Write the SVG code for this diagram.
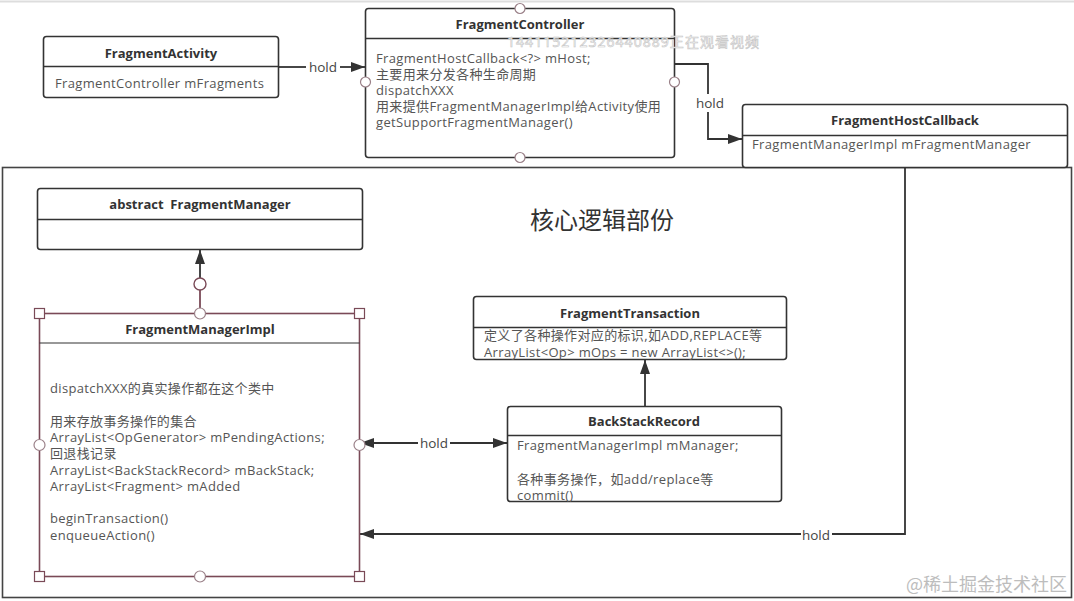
<svg xmlns="http://www.w3.org/2000/svg" width="1074" height="601" viewBox="0 0 1074 601">
<style>
  .box { fill: #fff; stroke: #333; stroke-width: 1.6; }
  .div { stroke: #333; stroke-width: 1.4; fill: none; }
  .sel { fill: #fff; stroke: #7a4a57; stroke-width: 1.6; }
  .seldiv { stroke: #333; stroke-width: 1.2; fill: none; }
  .title { font-family: "Open Sans", "Noto Sans", "Noto Sans CJK SC", sans-serif; font-size: 13px; font-weight: bold; fill: #333; text-anchor: middle; }
  .body { font-family: "Open Sans", "Noto Sans", "Noto Sans CJK SC", sans-serif; font-size: 13px; letter-spacing: 0.35px; fill: #555; }
  .lbl { font-family: "Open Sans", "Noto Sans", "Noto Sans CJK SC", sans-serif; font-size: 13.5px; fill: #444; text-anchor: middle; }
  .pt { fill: #fff; stroke: #9a8088; stroke-width: 1.2; }
  .hd { fill: #fff; stroke: #7a4a57; stroke-width: 1.2; }
  .ln { stroke: #333; stroke-width: 1.8; fill: none; }
</style>
<defs>
  <marker id="arr" markerUnits="userSpaceOnUse" markerWidth="14" markerHeight="10" refX="14" refY="5" orient="auto-start-reverse">
    <path d="M0,0 L14,5 L0,10 z" fill="#333"/>
  </marker>
</defs>
<rect width="1074" height="601" fill="#fff"/>
<line x1="0" y1="1.5" x2="1074" y2="1.5" stroke="#ddd" stroke-width="2"/>

<g id="core-container">
  <rect x="2.5" y="167.5" width="1069" height="430" fill="none" stroke="#444" stroke-width="1.6"/>
  <text x="602" y="229" font-family="'Noto Sans CJK SC', sans-serif" font-size="24" fill="#333" text-anchor="middle">核心逻辑部份</text>
</g>

<g id="connectors">
  <!-- FragmentActivity -> FragmentController -->
  <line class="ln" x1="279" y1="67" x2="306" y2="67"/>
  <line class="ln" x1="340" y1="67" x2="365" y2="67" marker-end="url(#arr)"/>
  <text class="lbl" x="323" y="72">hold</text>
  <!-- FragmentController -> FragmentHostCallback -->
  <polyline class="ln" points="674,64 708,64 708,139 742,139" marker-end="url(#arr)"/>
  <rect x="694" y="94" width="32" height="18" fill="#fff"/>
  <text class="lbl" x="710" y="108">hold</text>
  <!-- FragmentManagerImpl -> FragmentManager -->
  <line x1="200" y1="313" x2="200" y2="290" stroke="#7a4a57" stroke-width="1.8"/>
  <line class="ln" x1="200" y1="278" x2="200" y2="250" marker-end="url(#arr)"/>
  <circle cx="200" cy="284" r="6" fill="#fff" stroke="#7a4a57" stroke-width="1.4"/>
  <!-- BackStackRecord -> FragmentTransaction -->
  <line class="ln" x1="645" y1="406" x2="645" y2="360" marker-end="url(#arr)"/>
  <!-- FragmentManagerImpl <-> BackStackRecord -->
  <line class="ln" x1="360" y1="443" x2="418" y2="443" marker-start="url(#arr)"/>
  <line class="ln" x1="450" y1="443" x2="507" y2="443" marker-end="url(#arr)"/>
  <text class="lbl" x="434" y="448">hold</text>
  <!-- FragmentHostCallback -> FragmentManagerImpl -->
  <polyline class="ln" points="905,167 905,534 832,534"/>
  <line class="ln" x1="801" y1="534" x2="360" y2="534" marker-end="url(#arr)"/>
  <text class="lbl" x="816" y="540">hold</text>
</g>

<g id="FragmentActivity">
  <rect class="box" x="43.5" y="36.5" width="235" height="61" rx="3"/>
  <line class="div" x1="43.5" y1="66.5" x2="278.5" y2="66.5"/>
  <text class="title" x="161" y="58">FragmentActivity</text>
  <text class="body" x="55" y="88">FragmentController mFragments</text>
</g>

<g id="FragmentController">
  <rect class="box" x="365.5" y="8.5" width="309" height="149" rx="3"/>
  <line class="div" x1="365.5" y1="38.5" x2="674.5" y2="38.5"/>
  <text class="title" x="520" y="29">FragmentController</text>
  <text class="body" x="376" y="63">FragmentHostCallback&lt;?&gt; mHost;</text>
  <text class="body" x="376" y="79">主要用来分发各种生命周期</text>
  <text class="body" x="376" y="95">dispatchXXX</text>
  <text class="body" x="376" y="111">用来提供FragmentManagerImpl给Activity使用</text>
  <text class="body" x="376" y="127">getSupportFragmentManager()</text>
  <circle class="pt" cx="520" cy="8.5" r="5"/>
  <circle class="pt" cx="365.5" cy="82" r="5"/>
  <circle class="pt" cx="674.5" cy="82" r="5"/>
  <circle class="pt" cx="520" cy="157.5" r="5"/>
</g>

<g id="FragmentHostCallback">
  <rect class="box" x="742.5" y="104.5" width="325" height="63" rx="3"/>
  <line class="div" x1="742.5" y1="135.5" x2="1067.5" y2="135.5"/>
  <text class="title" x="905" y="125">FragmentHostCallback</text>
  <text class="body" x="752" y="149">FragmentManagerImpl mFragmentManager</text>
</g>

<g id="FragmentManager">
  <rect class="box" x="37.5" y="188.5" width="325" height="61" rx="3"/>
  <line class="div" x1="37.5" y1="219.5" x2="362.5" y2="219.5"/>
  <text class="title" x="200" y="209" xml:space="preserve">abstract  FragmentManager</text>
</g>

<g id="FragmentManagerImpl">
  <rect class="sel" x="39.5" y="313.5" width="320" height="263"/>
  <line class="seldiv" x1="39.5" y1="343" x2="359.5" y2="343"/>
  <text class="title" x="200" y="334">FragmentManagerImpl</text>
  <text class="body" x="50" y="393">dispatchXXX的真实操作都在这个类中</text>
  <text class="body" x="50" y="426">用来存放事务操作的集合</text>
  <text class="body" x="50" y="442">ArrayList&lt;OpGenerator&gt; mPendingActions;</text>
  <text class="body" x="50" y="458">回退栈记录</text>
  <text class="body" x="50" y="475">ArrayList&lt;BackStackRecord&gt; mBackStack;</text>
  <text class="body" x="50" y="491">ArrayList&lt;Fragment&gt; mAdded</text>
  <text class="body" x="50" y="523">beginTransaction()</text>
  <text class="body" x="50" y="540">enqueueAction()</text>
  <rect class="hd" x="34.5" y="308.5" width="10" height="10"/>
  <rect class="hd" x="354.5" y="308.5" width="10" height="10"/>
  <rect class="hd" x="34.5" y="571.5" width="10" height="10"/>
  <rect class="hd" x="354.5" y="571.5" width="10" height="10"/>
  <circle class="pt" cx="200" cy="313.5" r="5.5"/>
  <circle class="pt" cx="200" cy="576.5" r="5.5"/>
  <circle class="pt" cx="39.5" cy="445" r="5.5"/>
  <circle class="pt" cx="359.5" cy="445" r="5.5"/>
</g>

<g id="FragmentTransaction">
  <rect class="box" x="473.5" y="296.5" width="313" height="63" rx="3"/>
  <line class="div" x1="473.5" y1="327.5" x2="786.5" y2="327.5"/>
  <text class="title" x="630" y="318">FragmentTransaction</text>
  <text class="body" x="484" y="340">定义了各种操作对应的标识,如ADD,REPLACE等</text>
  <text class="body" x="484" y="357">ArrayList&lt;Op&gt; mOps = new ArrayList&lt;&gt;();</text>
</g>

<g id="BackStackRecord">
  <rect class="box" x="507.5" y="406.5" width="274" height="95" rx="3"/>
  <line class="div" x1="507.5" y1="435.5" x2="781.5" y2="435.5"/>
  <text class="title" x="644" y="426">BackStackRecord</text>
  <text class="body" x="517" y="450">FragmentManagerImpl mManager;</text>
  <text class="body" x="517" y="484">各种事务操作，如add/replace等</text>
  <text class="body" x="517" y="500">commit()</text>
</g>

<text x="507" y="47" font-family="'Noto Sans', 'Noto Sans CJK SC', sans-serif" font-size="14" fill="#fff" stroke="#c4c4c4" stroke-width="0.6" textLength="252">144115212326440889正在观看视频</text>
<text x="1067" y="591" font-family="'Noto Sans CJK SC', sans-serif" font-size="18" fill="#bdbdbd" text-anchor="end">@稀土掘金技术社区</text>
</svg>
